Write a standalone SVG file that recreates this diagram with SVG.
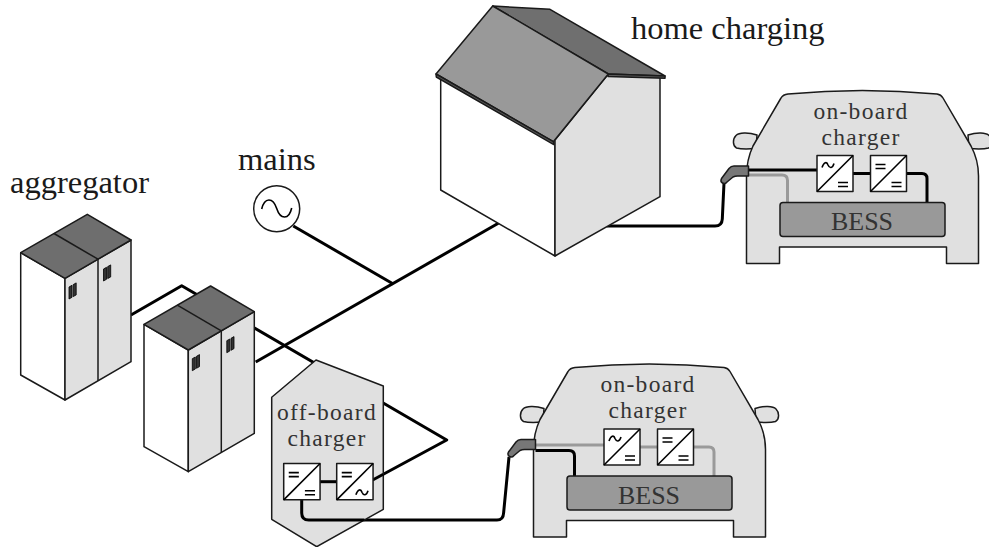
<svg xmlns="http://www.w3.org/2000/svg" xmlns:xlink="http://www.w3.org/1999/xlink" width="989" height="547" viewBox="0 0 989 547">
  <style>
    .ol { stroke: #1a1a1a; stroke-width: 1.5; stroke-linejoin: round; }
    .thin { fill: none; stroke: #1a1a1a; stroke-width: 1.5; }
    .wire { fill: none; stroke: #000; stroke-width: 3; stroke-linejoin: round; }
    .wire-g { fill: none; stroke: #9a9a9a; stroke-width: 3; stroke-linejoin: round; }
    .label { font-family: "Liberation Serif", "DejaVu Serif", serif; font-size: 32.5px; fill: #1a1a1a; }
    .inner { font-family: "Liberation Serif", "DejaVu Serif", serif; font-size: 23.5px; letter-spacing: 1.3px; fill: #333; text-anchor: middle; }
    .bess { font-family: "Liberation Serif", "DejaVu Serif", serif; font-size: 26px; fill: #333; text-anchor: middle; }
    .handle { fill: #333; stroke: #000; stroke-width: 0.8; }
    .sym { fill: none; stroke: #000; stroke-width: 1.6; }
  </style>
  <defs>
    <!-- server cabinet (two doors), drawn at the first cabinet position -->
    <g id="cabinet">
      <polygon class="ol" fill="#fff" points="20.7,252.7 65,278.3 65,400 20.7,375"/>
      <polygon class="ol" fill="#e0e0e0" points="65,278.3 131,240 131,361.7 65,400"/>
      <polygon class="ol" fill="#6e6e6e" points="20.7,252.7 87.3,214.3 131,240 65,278.3"/>
      <line class="thin" x1="54" y1="233.5" x2="98" y2="259.2"/>
      <line class="thin" x1="98" y1="259.2" x2="98" y2="380.8"/>
      <polygon class="handle" points="69,287 72,285.3 72,297.3 69,299"/>
      <polygon class="handle" points="73.2,284.6 76.2,282.9 76.2,294.9 73.2,296.6"/>
      <polygon class="handle" points="103.5,269 106.5,267.3 106.5,279.3 103.5,281"/>
      <polygon class="handle" points="107.7,266.6 110.7,264.9 110.7,276.9 107.7,278.6"/>
    </g>
    <!-- converter boxes, 36 x 36 -->
    <g id="conv-dcdc">
      <rect class="ol" fill="#fff" x="0" y="0" width="36" height="36" stroke-width="1.8"/>
      <line class="sym" x1="0" y1="36" x2="36" y2="0"/>
      <path class="sym" d="M5,9 H15 M5,13 H15 M21,27 H31 M21,31 H31"/>
    </g>
    <g id="conv-acdc">
      <rect class="ol" fill="#fff" x="0" y="0" width="36" height="36" stroke-width="1.8"/>
      <line class="sym" x1="0" y1="36" x2="36" y2="0"/>
      <path class="sym" d="M5,12 C7,6 10,6 11,9.5 C12.5,13 15.5,13 17,8 M21,27 H31 M21,31 H31"/>
    </g>
    <g id="conv-dcac">
      <rect class="ol" fill="#fff" x="0" y="0" width="36" height="36" stroke-width="1.8"/>
      <line class="sym" x1="0" y1="36" x2="36" y2="0"/>
      <path class="sym" d="M5,9 H15 M5,13 H15 M19,31 C21,25 24,25 25,28.5 C26.5,32 29.5,32 31,27"/>
    </g>
    <!-- electric car seen from the front, with mirrors -->
    <g id="car-body">
      <path class="ol" fill="#e0e0e0" d="M757,135 C748,132 739,132.5 736,135.5 C732.5,139 732.5,146 736.5,148 C742,149.5 750,149 756,148.5 Z"/>
      <path class="ol" fill="#e0e0e0" d="M968,135 C977,132 986,132.5 989,135.5 C992.5,139 992.5,146 988.5,148 C983,149.5 975,149 969,148.5 Z"/>
      <path class="ol" fill="#e0e0e0" d="M781,98 Q783,94.5 788,94 Q862,87 937,94 Q941,94.5 943,98 L971,146 Q978.5,160 978.5,176 L978.5,263.5 L946.5,263.5 L946.5,247 L779.5,247 L779.5,263.5 L746.5,263.5 L746.5,176 Q746.5,160 753,146 Z"/>
    </g>
    <!-- charging plug seated in the car inlet -->
    <path id="plug" class="ol" fill="#777" stroke-width="1.3" d="M748.5,166 L734,166 Q731,166 729,168.5 L721.5,178.5 Q720,181.5 722.5,183 Q725,184.5 727,182 L733,177 Q735,176 737.5,176 L748.5,176 Z"/>
  </defs>

  <!-- power and data connections -->
  <g id="connectors">
    <path class="wire" d="M131,315 L181.7,285.7 L446.7,440 L383.3,474.3"/>
    <path class="wire" d="M255.7,362 L498.3,223.3"/>
    <path class="wire" d="M293.3,226 L393.3,284"/>
    <path class="wire" d="M606.7,226 L715,226 Q722,226 722.3,219 L724,183"/>
    <path class="wire" d="M364.2,520 L497,520 Q503.3,520 503.6,513 L509,457"/>
  </g>

  <g id="label-aggregator">
    <text class="label" x="10" y="193">aggregator</text>
  </g>

  <g id="aggregator-1">
    <use xlink:href="#cabinet"/>
  </g>
  <g id="aggregator-2">
    <use xlink:href="#cabinet" transform="translate(123.3,71.7)"/>
  </g>

  <g id="mains">
    <text class="label" x="238" y="170">mains</text>
    <circle class="ol" fill="#fff" cx="276.7" cy="208.8" r="23"/>
    <path class="sym" stroke-width="1.5" d="M261.7,209 C264.5,197 273,197 276.7,208.5 C280.5,220 289,220 291.7,208"/>
  </g>

  <g id="home">
    <polygon class="ol" fill="#fff" points="440.7,78.3 555,140 555,256 440.7,190"/>
    <polygon class="ol" fill="#e0e0e0" points="555,140 608.3,74 660,76 660,196.7 555,256"/>
    <polygon class="ol" fill="#6f6f6f" points="492.7,6 550,9.3 665,76 608.3,74"/>
    <polygon class="ol" fill="#5a5a5a" points="608.3,74 665,76 665,78.3 608,76.6"/>
    <polygon class="ol" fill="#999" points="492.7,6 608.3,74 553.3,141.7 436,74"/>
    <polygon class="ol" fill="#5a5a5a" points="436,74 553.3,141.7 553.8,144.6 436.3,77"/>
    <text class="label" x="631" y="38.5">home charging</text>
  </g>

  <g id="offboard-charger">
    <polygon class="ol" fill="#e0e0e0" points="316,360 383.3,386 383.3,509.3 316.7,546.7 271.7,519.3 271.7,397.3"/>
    <text class="inner" x="327" y="420">off-board</text>
    <text class="inner" x="327" y="446">charger</text>
    <path class="wire" d="M383.3,474.3 L372.7,480"/>
    <path class="wire" d="M301.7,500 L301.7,513 Q301.7,520 308.7,520 L364.5,520"/>
    <path class="wire" d="M320,481.7 L336.7,481.7"/>
    <use xlink:href="#conv-dcdc" transform="translate(283.7,463.5) scale(1.01)"/>
    <use xlink:href="#conv-dcac" transform="translate(336.7,463.5) scale(1.01)"/>
  </g>

  <g id="car-home">
    <use xlink:href="#car-body"/>
    <path class="wire" d="M748.5,170 L817,170 M853,173.5 L870.5,173.5 M906.5,173.5 L922,173.5 Q927,173.5 927,178.5 L927,203"/>
    <path class="wire-g" d="M748.5,175 L782,175 Q787.5,175 787.5,180.5 L787.5,203"/>
    <rect class="ol" fill="#999" x="780" y="202.5" width="165" height="34" rx="3"/>
    <text class="bess" x="862" y="230">BESS</text>
    <use xlink:href="#conv-acdc" transform="translate(817,155.5)"/>
    <use xlink:href="#conv-dcdc" transform="translate(870.5,155.5)"/>
    <text class="inner" x="861" y="118.5">on-board</text>
    <text class="inner" x="861" y="144.5">charger</text>
    <use xlink:href="#plug"/>
  </g>

  <g id="car-public" transform="translate(-213,273.5)">
    <use xlink:href="#car-body"/>
    <path class="wire-g" d="M748.5,171.5 L817,171.5 M853,173.5 L870.5,173.5 M906.5,173.5 L922,173.5 Q927,173.5 927,178.5 L927,203"/>
    <path class="wire" d="M748.5,177 L782,177 Q787.5,177 787.5,182.5 L787.5,203"/>
    <rect class="ol" fill="#999" x="780" y="202.5" width="165" height="34" rx="3"/>
    <text class="bess" x="862" y="230">BESS</text>
    <use xlink:href="#conv-acdc" transform="translate(817,155.5)"/>
    <use xlink:href="#conv-dcdc" transform="translate(870.5,155.5)"/>
    <text class="inner" x="861" y="118.5">on-board</text>
    <text class="inner" x="861" y="144.5">charger</text>
    <use xlink:href="#plug"/>
  </g>
</svg>
